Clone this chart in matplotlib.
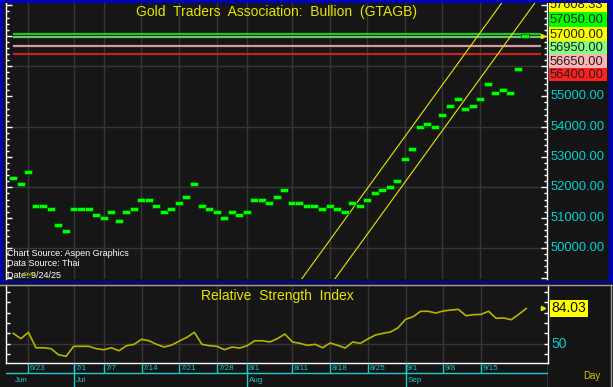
import matplotlib
matplotlib.use('Agg')
import matplotlib.pyplot as plt
import numpy as np
import pandas as pd
from matplotlib.patches import Rectangle
from matplotlib.ticker import MultipleLocator
from matplotlib.transforms import blended_transform_factory

plt.rcParams['font.family'] = ['Liberation Sans', 'DejaVu Sans']

# ---------------- data ----------------
dates = pd.bdate_range('2025-06-19', '2025-09-23')

price = [52300, 52100, 52500, 51400, 51400, 51300, 50750, 50550, 51300, 51300,
         51300, 51100, 51000, 51200, 50900, 51200, 51300, 51600, 51600, 51400,
         51200, 51300, 51500, 51700, 52100, 51400, 51300, 51200, 51000, 51200,
         51100, 51200, 51600, 51600, 51500, 51700, 51900, 51500, 51500, 51400,
         51400, 51300, 51400, 51300, 51200, 51500, 51400, 51600, 51800, 51900,
         52000, 52200, 52950, 53250, 54000, 54100, 54000, 54400, 54700, 54900,
         54600, 54700, 54900, 55400, 55100, 55200, 55100, 55900, 57000]

rsi = [59.9, 54.7, 60.9, 45.9, 45.9, 45.0, 39.1, 37.6, 47.3, 47.3,
       47.3, 45.0, 44.0, 45.9, 43.0, 47.9, 49.2, 54.1, 52.7, 49.2,
       46.6, 48.5, 52.4, 56.0, 60.9, 49.2, 47.9, 47.3, 44.0, 46.6,
       45.6, 47.9, 52.7, 52.7, 51.5, 54.7, 59.2, 51.5, 50.2,
       48.2, 49.2, 45.9, 50.5, 48.2, 45.6, 51.5, 50.2, 54.4, 58.3,
       59.9, 61.2, 65.3, 73.5, 76.0, 81.3, 81.3, 79.6, 81.6, 82.5,
       83.2, 77.0, 78.0, 78.3, 81.3, 74.5, 74.8, 73.1, 78.3, 84.03]

tick_dates = ['2025-06-23', '2025-07-01', '2025-07-07', '2025-07-14', '2025-07-21',
              '2025-07-28', '2025-08-01', '2025-08-11', '2025-08-18', '2025-08-25',
              '2025-09-01', '2025-09-08', '2025-09-15']
tick_labels = ['6/23', '7/1', '7/7', '7/14', '7/21', '7/28', '8/1', '8/11',
               '8/18', '8/25', '9/1', '9/8', '9/15']
month_dates = ['2025-06-19', '2025-07-01', '2025-08-01', '2025-09-01']
month_names = ['Jun', 'Jul', 'Aug', 'Sep']

level_values = [57050, 56950, 56650, 56400]
level_colors = ['#1ec81e', '#6cc86c', '#d49a9a', '#c82020']

label_values = [57608.33, 57050.00, 57000.00, 56950.00, 56650.00, 56400.00]
label_colors = ['#ffff00', '#00ff00', '#ffff00', '#80ff80', '#ffb4b4', '#ff2020']

axis_values = [50000, 51000, 52000, 53000, 54000, 55000]
grid_values = [50000, 52000, 54000, 56000]

# trend channel anchor points (index, price)
chan_upper_x = [38.3, 65.6]
chan_upper_y = [48980, 58333]
chan_lower_x = [42.7, 70.0]
chan_lower_y = [48980, 58333]

last_price = 57000
rsi_last = 84.03
rsi_ref = 50

# ---------------- figure ----------------
W, H = 613, 387
BG = '#161616'
fig = plt.figure(figsize=(W / 100, H / 100), dpi=100, facecolor='#141414')

x = np.arange(len(dates))
didx = {d.strftime('%Y-%m-%d'): i for i, d in enumerate(dates)}
tick_x = [didx[d] for d in tick_dates]
month_x = [didx[d] for d in month_dates]
XL = (-0.97, 70.88)

# main panel
ax = fig.add_axes([6 / W, 1 - 279 / H, 541 / W, 276 / H], facecolor=BG)
ax.set_xlim(*XL)
ax.set_ylim(48980, 58080)
for g in grid_values:
    ax.axhline(g, color='#363636', lw=1, zorder=0)
for tx in tick_x:
    ax.axvline(tx, color='#363636', lw=1, zorder=0)
for v, c in zip(level_values, level_colors):
    ax.hlines(v, 0, 70.1, color=c, lw=1.6, zorder=2)
ax.plot(chan_upper_x, chan_upper_y, color='#e6e600', lw=0.8, zorder=3)
ax.plot(chan_lower_x, chan_lower_y, color='#e6e600', lw=0.8, zorder=3)
rect = [(-1, -0.5), (1, -0.5), (1, 0.5), (-1, 0.5), (-1, -0.5)]
ax.plot(x, price, linestyle='none', marker=rect, ms=5.6, mfc='#00ff00',
        mec='#003300', mew=0.4, zorder=4)
ax.plot([70.3], [last_price], marker='>', ms=3, color='#e6e600', zorder=5)
ax.yaxis.set_major_locator(MultipleLocator(1000))
ax.yaxis.set_minor_locator(MultipleLocator(200))
ax.tick_params(which='both', direction='in', colors='white', left=True, right=True,
               labelleft=False, labelright=False, bottom=False, labelbottom=False)
ax.tick_params(which='major', length=4, width=1)
ax.tick_params(which='minor', length=2.5, width=1)
for s in ['top', 'bottom']:
    ax.spines[s].set_visible(False)
for s in ['left', 'right']:
    ax.spines[s].set_color('white')
    ax.spines[s].set_linewidth(1)
tr = blended_transform_factory(ax.transAxes, ax.transData)
for v in axis_values:
    ax.text(1.006, v, f'{v:.2f}', transform=tr, color='#00d2d2', fontsize=9.3,
            ha='left', va='center', clip_on=False)
ax.text(0.5, 1 - 9 / 276, 'Gold  Traders  Association:  Bullion  (GTAGB)',
        transform=ax.transAxes, color='#e6e600', fontsize=10, ha='center', va='center')
ax.text(0.002, 1 - 250 / 276, 'Chart Source: Aspen Graphics', transform=ax.transAxes,
        color='white', fontsize=6.5, ha='left', va='center')
ax.text(0.002, 1 - 261 / 276, 'Data Source: Thai', transform=ax.transAxes,
        color='white', fontsize=6.5, ha='left', va='center')
ax.text(0.002, 1 - 272 / 276, 'Date: 9/24/25', transform=ax.transAxes,
        color='white', fontsize=6.5, ha='left', va='center')
ax.text(0.03, 1 - 272 / 276, 'Gold', transform=ax.transAxes,
        color='#b8c800', fontsize=4.5, ha='left', va='center')

# RSI panel
ax2 = fig.add_axes([6 / W, 1 - 362.7 / H, 542 / W, 77.7 / H], facecolor=BG)
ax2.set_xlim(*XL)
ax2.set_ylim(31.4, 106.8)
ax2.axhline(rsi_ref, color='#363636', lw=1, zorder=0)
for tx in tick_x:
    ax2.axvline(tx, color='#363636', lw=1, zorder=0)
ax2.plot(x, rsi, color='#b4b400', lw=1.2, zorder=3)
ax2.plot([70.2], [rsi_last], marker='>', ms=3, color='#e6e600', zorder=5)
ax2.yaxis.set_major_locator(MultipleLocator(10))
ax2.tick_params(which='both', direction='in', colors='white', left=True, right=True,
                labelleft=False, labelright=False, bottom=False, labelbottom=False,
                length=3, width=1)
ax2.spines['top'].set_visible(False)
for s in ['left', 'right', 'bottom']:
    ax2.spines[s].set_color('white')
    ax2.spines[s].set_linewidth(1)
ax2.text(0.5, 1 - 11 / 77.7, 'Relative  Strength  Index', transform=ax2.transAxes,
         color='#e6e600', fontsize=10, ha='center', va='center')
tr2 = blended_transform_factory(ax2.transAxes, ax2.transData)
ax2.text(1.007, rsi_last, f'{rsi_last:.2f}', transform=tr2, color='#101010', fontsize=10,
         ha='left', va='center', clip_on=False,
         bbox=dict(boxstyle='square,pad=0.1', fc='#ffff00', ec='none'))
ax2.text(1.007, rsi_ref, f'{rsi_ref}', transform=tr2, color='#00d2d2', fontsize=10,
         ha='left', va='center', clip_on=False)

# date band
axd = fig.add_axes([6 / W, 0, 542 / W, 24.3 / H], facecolor='#141414')
axd.set_xlim(*XL)
axd.set_ylim(387, 362.7)
axd.axis('off')
cy = '#1ec8c8'
axd.vlines(tick_x, 362.7, 372.7, color=cy, lw=1)
axd.axhline(372.7, color=cy, lw=1)
axd.vlines(month_x[1:], 362.7, 387, color=cy, lw=1)
axd.vlines([XL[1]], 362.7, 387, color=cy, lw=1)
for tx, tl in zip(tick_x, tick_labels):
    axd.text(tx + 0.2, 368.2, tl, color=cy, fontsize=5.8, ha='left', va='center')
for mx, mn in zip(month_x, month_names):
    axd.text(mx + 0.25, 380, mn, color=cy, fontsize=5.8, ha='left', va='center')

# overlay for frame and right-hand labels
ov = fig.add_axes([0, 0, 1, 1], facecolor='none')
ov.set_xlim(0, W)
ov.set_ylim(H, 0)
ov.axis('off')
tops = [-3, 12, 27, 40.5, 54, 67.5]
bots = [12, 27, 40.5, 54, 67.5, 81]
for v, c, t, b in zip(label_values, label_colors, tops, bots):
    ov.add_patch(Rectangle((549, t), 58, b - t, fc=c, ec='none'))
    ov.text(550, (t + b) / 2 + 0.8, f'{v:.2f}', color='#202020', fontsize=9.3,
            ha='left', va='center')
blue = '#0000c0'
ov.add_patch(Rectangle((0, 0), W, 3, fc=blue, ec='none'))
ov.add_patch(Rectangle((0, 0), 3, 283, fc=blue, ec='none'))
ov.add_patch(Rectangle((608.5, 0), 4.5, 283, fc=blue, ec='none'))
ov.add_patch(Rectangle((0, 280.5), W, 2.5, fc=blue, ec='none'))
ov.plot([0, W], [284.5, 284.5], color='#a0a0a0', lw=1)
ov.plot([611, 611], [284.5, H], color='#a0a0a0', lw=1)
ov.text(592, 376, 'Day', color='#c8c800', fontsize=7, ha='center', va='center')

fig.savefig('out.png', dpi=100, facecolor=fig.get_facecolor())
